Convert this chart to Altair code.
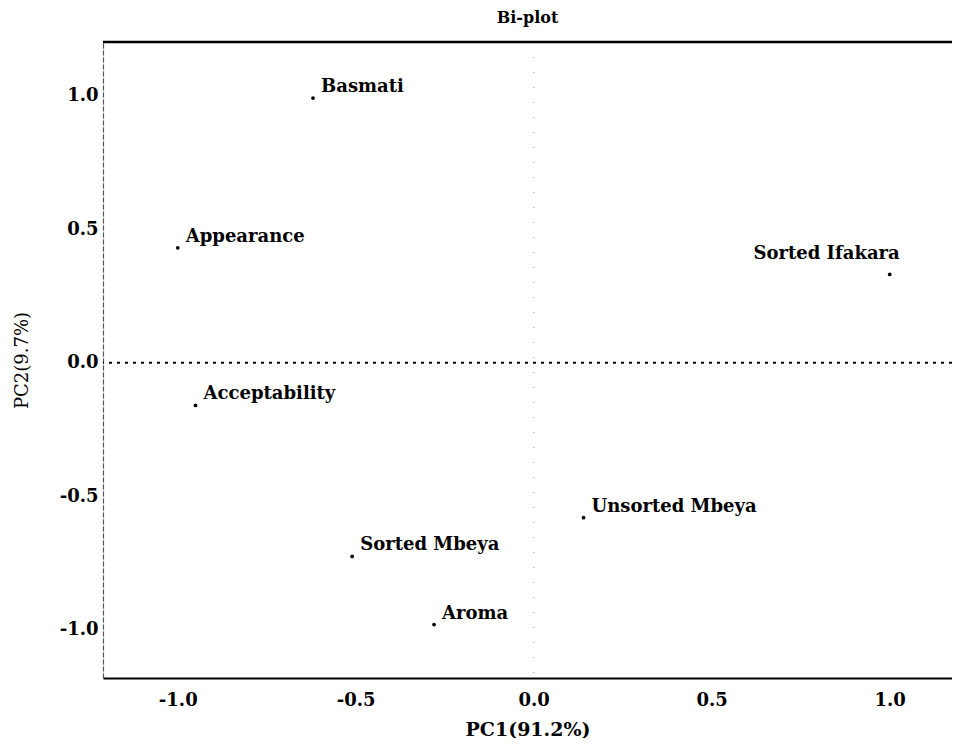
import altair as alt
import pandas as pd

# data
names = ["Basmati", "Appearance", "Acceptability", "Sorted Ifakara",
         "Unsorted Mbeya", "Sorted Mbeya", "Aroma"]
pc1 = [-0.62, -1.00, -0.95, 1.00, 0.14, -0.51, -0.28]
pc2 = [0.99, 0.43, -0.16, 0.33, -0.58, -0.725, -0.98]
label_side = ["right", "right", "right", "left", "right", "right", "right"]
x_ticks = [-1.0, -0.5, 0.0, 0.5, 1.0]
y_ticks = [-1.0, -0.5, 0.0, 0.5, 1.0]

df = pd.DataFrame({"name": names, "pc1": pc1, "pc2": pc2, "side": label_side})

W, H = 849, 636
FONT = "DejaVu Serif"

xs = alt.Scale(domain=[-1.21, 1.175], nice=False, zero=False)
ys = alt.Scale(domain=[-1.18, 1.2], nice=False, zero=False)

lbl = "(datum.value < 0 ? '-' : '') + format(abs(datum.value), '.1f')"

base = alt.Chart(df)

points = base.mark_circle(size=14, color="black", opacity=1).encode(
    x=alt.X("pc1:Q", scale=xs,
            axis=alt.Axis(values=x_ticks, labelExpr=lbl, title="PC1(91.2%)",
                          grid=False, ticks=False, domainColor="black",
                          domainWidth=2, labelPadding=13, titlePadding=11,
                          labelFontSize=18, labelFontWeight="bold",
                          titleFontSize=19, titleFontWeight="bold",
                          labelFont=FONT, titleFont=FONT, labelColor="black",
                          titleColor="black")),
    y=alt.Y("pc2:Q", scale=ys,
            axis=alt.Axis(values=y_ticks, labelExpr=lbl, title="PC2(9.7%)",
                          grid=False, ticks=False, domainColor="#555555",
                          domainDash=[5, 2], domainWidth=1.2, labelPadding=5,
                          titlePadding=28, labelFontSize=18,
                          labelFontWeight="bold", titleFontSize=18,
                          titleFontWeight="normal", labelFont=FONT,
                          titleFont=FONT, labelColor="black",
                          titleColor="black")),
)

text_r = base.transform_filter(alt.datum.side == "right").mark_text(
    align="left", baseline="middle", dx=8, dy=-11, fontSize=18,
    font=FONT, fontWeight="bold", color="black"
).encode(x=alt.X("pc1:Q", scale=xs), y=alt.Y("pc2:Q", scale=ys), text="name:N")

text_l = base.transform_filter(alt.datum.side == "left").mark_text(
    align="right", baseline="middle", dx=10, dy=-20, fontSize=18,
    font=FONT, fontWeight="bold", color="black"
).encode(x=alt.X("pc1:Q", scale=xs), y=alt.Y("pc2:Q", scale=ys), text="name:N")

hline = alt.Chart(pd.DataFrame({"v": [0.0]})).mark_rule(
    color="black", strokeDash=[3, 5], strokeWidth=2
).encode(y=alt.Y("v:Q", scale=ys))

vline = alt.Chart(pd.DataFrame({"v": [0.0]})).mark_rule(
    color="#bbbbbb", strokeDash=[1, 14], strokeWidth=1.5
).encode(x=alt.X("v:Q", scale=xs))

top = alt.Chart(pd.DataFrame({"v": [0]})).mark_rule(
    color="black", strokeWidth=2.5
).encode(x=alt.value(0), x2=alt.value(W), y=alt.value(0))

chart = alt.layer(vline, hline, top, points, text_r, text_l).properties(
    width=W, height=H,
    title=alt.TitleParams("Bi-plot", fontSize=16, font=FONT, fontWeight="bold",
                          anchor="middle", offset=15, color="black"),
    autosize=alt.AutoSizeParams(type="none"),
    padding={"left": 95, "top": 34, "right": 0, "bottom": 60},
).configure_view(stroke=None).configure(background="white")

chart.save("out.html", embed_options={"renderer": "svg", "actions": False})
